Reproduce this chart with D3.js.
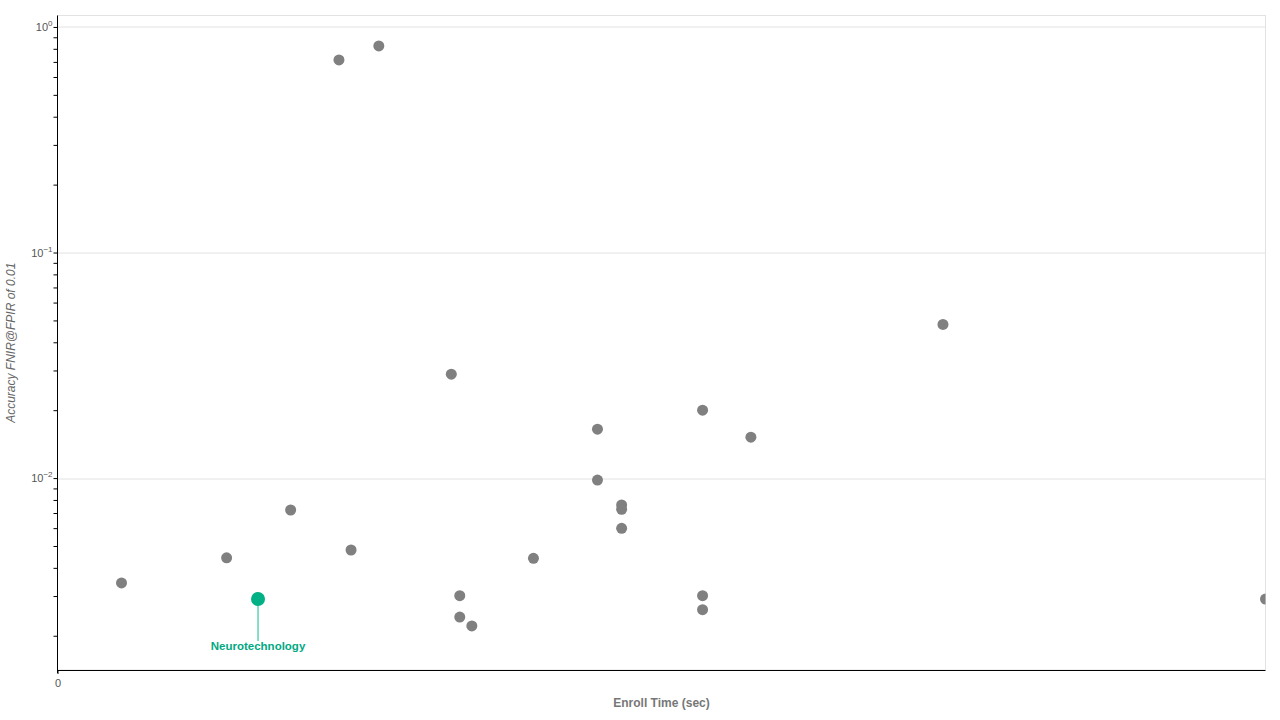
<!DOCTYPE html>
<html>
<head>
<meta charset="utf-8">
<script src="https://cdn.jsdelivr.net/npm/d3@7"></script>
<style>
    body { margin: 0; background: #fff; }
    svg { font-family: "Liberation Sans", Arial, sans-serif; }
    .tick text { fill: #555; font-size: 11px; }
    .axis path, .axis line { stroke: #000; }
</style>
</head>
<body>
<svg width="1280" height="720"></svg>
<script>
// vendors, enroll time (sec), FNIR @ FPIR 0.01
var vendors = ["v01", "v02", "Neurotechnology", "v04", "v05", "v06", "v07", "v08", "v09", "v10",
    "v11", "v12", "v13", "v14", "v15", "v16", "v17", "v18", "v19", "v20", "v21", "v22", "v23"];
var enrollTime = [0.053, 0.140, 0.166, 0.193, 0.233, 0.243, 0.266, 0.326, 0.333, 0.333,
    0.343, 0.394, 0.447, 0.447, 0.467, 0.467, 0.467, 0.534, 0.534, 0.534, 0.574, 0.733, 1.0];
var fnir = [0.00343, 0.00443, 0.00291, 0.00722, 0.714, 0.00480, 0.824, 0.0289, 0.00301, 0.00242,
    0.00221, 0.00441, 0.01647, 0.00980, 0.00760, 0.00727, 0.00599, 0.0200, 0.00301, 0.00261,
    0.01518, 0.0480, 0.00291];
var highlight = "Neurotechnology";
var yMajorTicks = [1, 0.1, 0.01];
var xTicks = [0];

var margin = {top: 15.5, right: 14.5, bottom: 50, left: 57.5};
var width = 1280 - margin.left - margin.right;
var height = 720 - margin.top - margin.bottom;

var svg = d3.select("svg");
var g = svg.append("g")
    .attr("transform", "translate(" + margin.left + "," + margin.top + ")");

var x = d3.scaleLinear().domain([0, 1.0]).range([0, width]);
var y = d3.scaleLog().domain([0.00141, 1.124]).range([height, 0]);

var points = vendors.map(function (v, i) {
    return {name: v, t: enrollTime[i], f: fnir[i]};
});

//边框
g.append("rect")
    .attr("width", width)
    .attr("height", height)
    .attr("fill", "none")
    .attr("stroke", "#e2e2e2");

//网格线
g.selectAll(".grid")
    .data(yMajorTicks)
    .enter().append("line")
    .classed("grid", true)
    .attr("x1", 0)
    .attr("x2", width)
    .attr("y1", function (d) { return Math.round(y(d)) + 0.5; })
    .attr("y2", function (d) { return Math.round(y(d)) + 0.5; })
    .attr("stroke", "#e2e2e2");

//y轴
var minorTicks = y.ticks().filter(function (d) { return d <= 1; });
var yAxis = g.append("g")
    .classed("axis", true)
    .call(d3.axisLeft(y).tickValues(minorTicks).tickSize(4).tickFormat(""));
yAxis.select(".domain").attr("d", "M0," + 0 + "V" + (height + 3));

yAxis.selectAll(".major-label")
    .data(yMajorTicks)
    .enter().append("text")
    .attr("x", -5)
    .attr("y", function (d) { return y(d) + 4; })
    .attr("text-anchor", "end")
    .attr("fill", "#555")
    .attr("font-size", "11px")
    .each(function (d) {
        var t = d3.select(this);
        t.append("tspan").text("10");
        t.append("tspan")
            .attr("dy", "-5")
            .attr("font-size", "8px")
            .text(String(Math.round(Math.log10(d))).replace("-", "\u2212"));
    });

//x轴
var xAxis = g.append("g")
    .classed("axis", true)
    .attr("transform", "translate(0," + height + ")")
    .call(d3.axisBottom(x).tickValues(xTicks).tickSize(4).tickFormat(d3.format("d")));
xAxis.select(".domain").attr("d", "M0,0.5H" + width);
xAxis.selectAll(".tick text").attr("dy", "0.9em");

//坐标轴标题
svg.append("text")
    .attr("x", margin.left + width / 2)
    .attr("y", 707)
    .attr("text-anchor", "middle")
    .attr("font-size", "12px")
    .attr("font-weight", "bold")
    .attr("fill", "#777")
    .text("Enroll Time (sec)");

svg.append("text")
    .attr("transform", "translate(15," + (margin.top + height / 2) + ") rotate(-90)")
    .attr("text-anchor", "middle")
    .attr("font-size", "12px")
    .attr("font-style", "italic")
    .attr("fill", "#666")
    .text("Accuracy FNIR@FPIR of 0.01");

//散点
g.append("clipPath")
    .attr("id", "plot-clip")
    .append("rect")
    .attr("width", width)
    .attr("height", height);

var dots = g.append("g").attr("clip-path", "url(#plot-clip)");
dots.selectAll("circle.pt")
    .data(points.filter(function (d) { return d.name != highlight; }))
    .enter().append("circle")
    .classed("pt", true)
    .attr("cx", function (d) { return x(d.t); })
    .attr("cy", function (d) { return y(d.f); })
    .attr("r", 5.5)
    .attr("fill", "#808080");

var hi = points.filter(function (d) { return d.name == highlight; });
var hiGroup = g.append("g").data(hi);
hiGroup.append("line")
    .attr("x1", function (d) { return x(d.t); })
    .attr("x2", function (d) { return x(d.t); })
    .attr("y1", function (d) { return y(d.f); })
    .attr("y2", function (d) { return y(d.f) + 42; })
    .attr("stroke", "#5fd3b5")
    .attr("stroke-width", 1.5);
hiGroup.append("circle")
    .attr("cx", function (d) { return x(d.t); })
    .attr("cy", function (d) { return y(d.f); })
    .attr("r", 7)
    .attr("fill", "#01b084");
hiGroup.append("text")
    .attr("x", function (d) { return x(d.t); })
    .attr("y", function (d) { return y(d.f) + 51; })
    .attr("text-anchor", "middle")
    .attr("font-size", "11.5px")
    .attr("font-weight", "bold")
    .attr("fill", "#01a982")
    .text(function (d) { return d.name; });
</script>
</body>
</html>
